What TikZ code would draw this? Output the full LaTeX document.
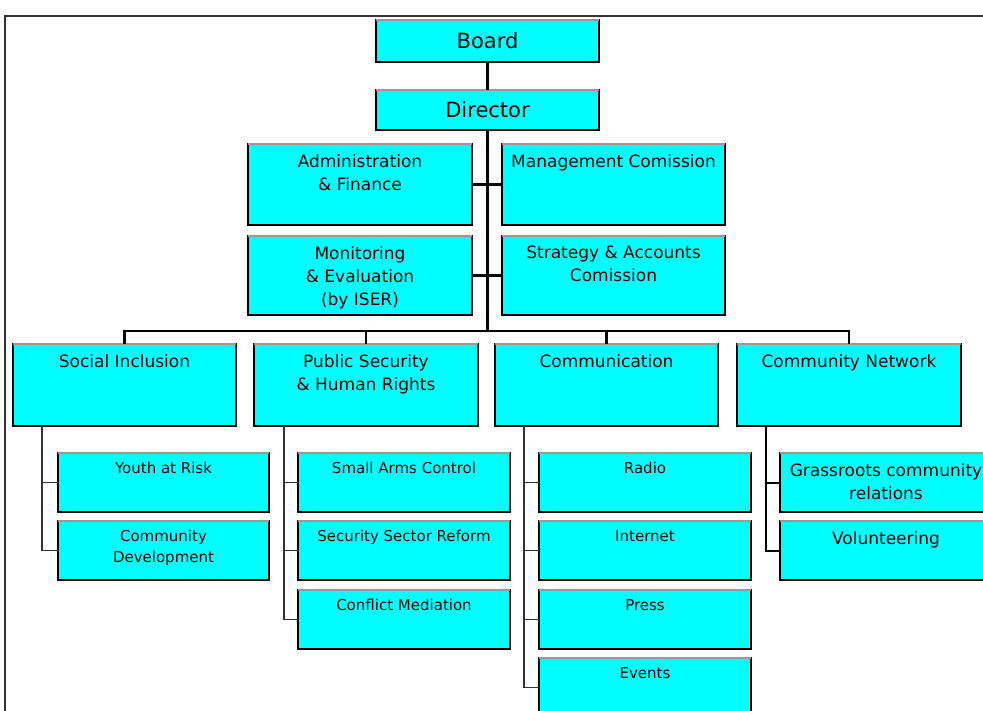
\documentclass[tikz,border=0pt]{standalone}
\usepackage{fontspec}
\setmainfont{DejaVu Sans}
\definecolor{aqua}{RGB}{0,255,255}
\begin{document}
\begin{tikzpicture}[x=1pt,y=-1pt,
  boxbase/.style={rectangle, anchor=north west, fill=aqua, draw=black, line width=1.6pt, inner sep=0pt, outer sep=0pt,
    append after command={(\tikzlastnode.north west) edge[draw=gray!80, line width=1.6pt] (\tikzlastnode.north east)}},
  topbox/.style={boxbase, minimum width=223pt, minimum height=42pt, font=\fontsize{21}{26}\selectfont},
  midbox/.style={boxbase, minimum width=223pt, minimum height=80pt},
  divbox/.style={boxbase, minimum width=223pt, minimum height=82pt},
  subbox/.style={boxbase, minimum width=212pt, minimum height=59pt},
  lab/.style={anchor=north, inner sep=0pt, align=center, yshift=-10pt, font=\fontsize{17}{23}\selectfont},
  slab/.style={anchor=north, inner sep=0pt, align=center, yshift=-9pt, font=\fontsize{15}{21}\selectfont},
  trunk/.style={draw=black, line width=2.2pt},
  twig/.style={draw=black!80, line width=1.2pt},
  bigtwig/.style={draw=black, line width=2pt},
  frameline/.style={draw=black!80, line width=1.5pt}
]
\useasboundingbox (0,0) rectangle (983,711);
\clip (0,0) rectangle (983,711);
\draw[frameline] (5,16) rectangle (1100,800);

% top
\node[topbox] (board) at (376,20) {Board};
\node[topbox, minimum height=40pt] (director) at (376,90) {Director};
\node[midbox, minimum width=224pt, minimum height=81pt, label={[lab, name=admin-t]north:Administration\\\& Finance}] (admin) at (248,144) {};
\node[midbox, minimum height=81pt, label={[lab, name=mgmt-t]north:Management Comission}] (mgmt) at (502,144) {};
\node[midbox, minimum width=224pt, minimum height=79pt, label={[lab, name=monit-t]north:Monitoring\\\& Evaluation\\(by ISER)}] (monit) at (248,236) {};
\node[midbox, minimum height=79pt, label={[lab, name=strat-t]north:Strategy \& Accounts\\Comission}] (strat) at (502,236) {};

% divisions
\node[divbox, label={[lab, name=social-t]north:Social Inclusion}] (social) at (13,344) {};
\node[divbox, minimum width=224pt, label={[lab, name=pubsec-t]north:Public Security\\\& Human Rights}] (pubsec) at (254,344) {};
\node[divbox, label={[lab, name=comm-t]north:Communication}] (comm) at (495,344) {};
\node[divbox, minimum width=224pt, label={[lab, name=commnet-t]north:Community Network}] (commnet) at (737,344) {};

% subs
\node[subbox, minimum width=211pt, label={[slab, name=yar-t]north:Youth at Risk}] (yar) at (58,453) {};
\node[subbox, minimum width=211pt, label={[slab, name=cdev-t]north:Community\\Development}] (cdev) at (58,521) {};
\node[subbox, label={[slab, name=sac-t]north:Small Arms Control}] (sac) at (298,453) {};
\node[subbox, label={[slab, name=ssr-t]north:Security Sector Reform}] (ssr) at (298,521) {};
\node[subbox, label={[slab, name=cmed-t]north:Conflict Mediation}] (cmed) at (298,590) {};
\node[subbox, label={[slab, name=radio-t]north:Radio}] (radio) at (539,453) {};
\node[subbox, label={[slab, name=inet-t]north:Internet}] (inet) at (539,521) {};
\node[subbox, label={[slab, name=press-t]north:Press}] (press) at (539,590) {};
\node[subbox, label={[slab, name=events-t]north:Events}] (events) at (539,658) {};
\node[subbox, label={[lab, name=grass-t]north:Grassroots community\\relations}] (grass) at (780,453) {};
\node[subbox, label={[lab, name=vol-t]north:Volunteering}] (vol) at (780,521) {};

% connectors
\coordinate (bus) at (487.5,331);
\draw[trunk] (board.south) -- (director.north);
\draw[trunk] (director.south) -- (bus);
\draw[trunk] (admin.east) -- (mgmt.west);
\draw[trunk] (monit.east) -- (strat.west);
\draw[trunk] (social.north) |- (bus) -| (commnet.north);
\draw[trunk] (pubsec.north) -- (pubsec.north |- bus);
\draw[trunk] (comm.north) -- (comm.north |- bus);

\coordinate (socsp) at (42,426);
\coordinate (pubsp) at (284,426);
\coordinate (comsp) at (524,426);
\coordinate (netsp) at (766,426);
\draw[twig] (yar.west) -| (socsp);
\draw[twig] (cdev.west) -| (socsp);
\draw[twig] (sac.west) -| (pubsp);
\draw[twig] (ssr.west) -| (pubsp);
\draw[twig] (cmed.west) -| (pubsp);
\draw[twig] (radio.west) -| (comsp);
\draw[twig] (inet.west) -| (comsp);
\draw[twig] (press.west) -| (comsp);
\draw[twig] (events.west) -| (comsp);
\draw[bigtwig] (grass.west) -| (netsp);
\draw[bigtwig] (vol.west) -| (netsp);
\end{tikzpicture}
\end{document}
